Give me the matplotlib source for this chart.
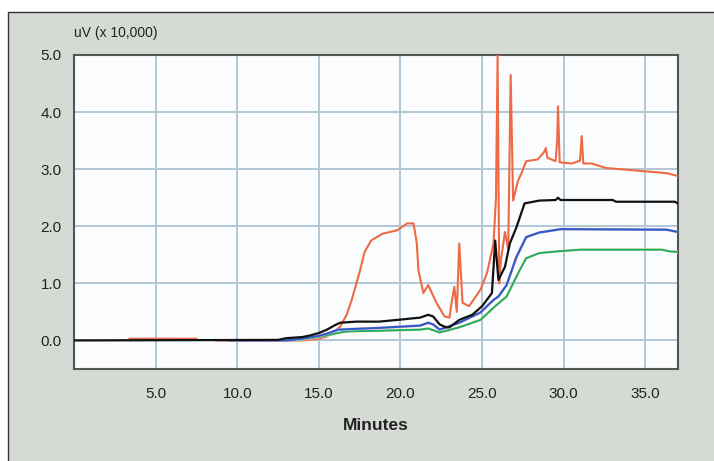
import matplotlib
matplotlib.use('Agg')
import matplotlib.pyplot as plt
from matplotlib.patches import Rectangle
import numpy as np

plt.rcParams['font.family'] = ['Liberation Sans Narrow', 'Liberation Sans', 'DejaVu Sans']

nan = np.nan

# 각 트레이스 (분, uV x 10,000)
orange_t = [3.4, 7.5, nan, 8.7, 12.0, 14.0, 15.0, 15.5, 15.9, 16.3, 16.7, 17.0, 17.3, 17.5,
            17.8, 18.2, 18.9, 19.8, 20.4, 20.8, 21.0, 21.1, 21.4, 21.7, 22.2, 22.7, 23.0,
            23.15, 23.3, 23.45, 23.6, 23.8, 24.2, 24.9, 25.3, 25.7, 25.85, 25.95, 26.05,
            26.15, 26.4, 26.6, 26.75, 26.9, 27.2, 27.4, 27.7, 28.4, 28.8, 28.9, 29.0, 29.5,
            29.6, 29.65, 29.75, 30.5, 31.0, 31.1, 31.2, 31.7, 32.6, 34.7, 36.3, 37.0]
orange_v = [0.03, 0.03, nan, 0.0, -0.01, 0.0, 0.03, 0.07, 0.15, 0.24, 0.45, 0.7, 1.0, 1.2,
            1.55, 1.75, 1.87, 1.93, 2.05, 2.05, 1.70, 1.23, 0.83, 0.97, 0.66, 0.42, 0.40,
            0.7, 0.94, 0.5, 1.70, 0.66, 0.60, 0.89, 1.18, 1.70, 2.5, 5.0, 1.0,
            1.4, 1.9, 1.6, 4.65, 2.45, 2.8, 2.92, 3.14, 3.17, 3.3, 3.37, 3.2, 3.14,
            3.5, 4.1, 3.12, 3.1, 3.15, 3.58, 3.1, 3.1, 3.02, 2.97, 2.93, 2.88]

black_t = [0, 12.5, 13.0, 13.5, 14.0, 14.5, 15.0, 15.5, 16.0, 16.3, 17.3, 18.7, 19.8, 21.2,
           21.7, 22.0, 22.4, 22.8, 23.0, 23.6, 24.4, 25.0, 25.6, 25.7, 25.8, 26.0, 26.4,
           26.7, 27.1, 27.6, 28.5, 29.5, 29.65, 29.8, 33.0, 33.2, 36.8, 37.0]
black_v = [0, 0.01, 0.04, 0.05, 0.06, 0.09, 0.13, 0.19, 0.27, 0.31, 0.33, 0.33, 0.36, 0.40,
           0.45, 0.42, 0.28, 0.23, 0.23, 0.36, 0.45, 0.6, 0.83, 1.28, 1.75, 1.06, 1.29,
           1.70, 1.98, 2.40, 2.45, 2.46, 2.5, 2.46, 2.46, 2.43, 2.43, 2.40]

blue_t = [9.5, 13.0, 14.0, 15.0, 15.5, 16.0, 16.2, 18.7, 21.2, 21.7, 22.0, 22.4, 23.6, 24.9,
          25.7, 26.0, 26.5, 27.1, 27.7, 28.5, 29.6, 29.8, 36.3, 37.0]
blue_v = [0, 0.0, 0.03, 0.08, 0.12, 0.17, 0.19, 0.22, 0.26, 0.31, 0.28, 0.19, 0.31, 0.49,
          0.71, 0.77, 0.97, 1.46, 1.81, 1.89, 1.94, 1.95, 1.94, 1.90]

green_t = [13.5, 15.0, 16.0, 16.5, 17.0, 18.7, 21.2, 21.7, 22.0, 22.4, 23.6, 24.9, 25.8,
           26.5, 27.3, 27.7, 28.5, 29.6, 31.0, 36.0, 36.5, 37.0]
green_v = [0, 0.06, 0.12, 0.15, 0.16, 0.17, 0.19, 0.21, 0.18, 0.14, 0.23, 0.36, 0.6,
           0.77, 1.23, 1.44, 1.53, 1.56, 1.59, 1.59, 1.56, 1.55]

x_ticks = [5, 10, 15, 20, 25, 30, 35]
y_ticks = [0, 1, 2, 3, 4, 5]

W, H = 714, 461
fig = plt.figure(figsize=(W / 100, H / 100), dpi=100)
fig.patch.set_facecolor('white')

# 회색 패널 (축 뒤에 그림)
panel = Rectangle((8 / W, -0.01), 1.0, (H - 12) / H + 0.01, transform=fig.transFigure,
                  facecolor='#d6dad5', edgecolor='#333333', linewidth=1.0, zorder=-10)
fig.patches.append(panel)

ax = fig.add_axes([74 / W, (H - 369) / H, (678 - 74) / W, (369 - 55) / H])
ax.set_zorder(1)
ax.set_facecolor('#fbfcfd')

ax.plot(orange_t, orange_v, color='#ee6a45', lw=1.5, zorder=3)
ax.plot(green_t, green_v, color='#e6e27a', lw=1.9, zorder=3)
ax.plot(green_t, green_v, color='#1aa878', lw=1.3, zorder=4)
ax.plot(blue_t, blue_v, color='#f0bcd8', lw=2.0, zorder=4)
ax.plot(blue_t, blue_v, color='#2a5cc8', lw=1.5, zorder=5)
ax.plot(black_t, black_v, color='#111111', lw=1.6, zorder=6)

ax.set_xlim(0, 37)
ax.set_ylim(-0.5, 5.0)
ax.set_xticks(x_ticks)
ax.set_xticklabels([f'{v:.1f}' for v in x_ticks])
ax.set_yticks(y_ticks)
ax.set_yticklabels([f'{v:.1f}' for v in y_ticks])
ax.tick_params(length=0, labelsize=11, colors='#222222')
ax.tick_params(axis='x', pad=13)
ax.tick_params(axis='y', pad=9)
ax.grid(True, color='#b3c6d4', lw=1.4, zorder=1)

for s in ax.spines.values():
    s.set_color('#555555')
    s.set_linewidth(1.5)

fig.text(74 / W, 1 - 33 / H, 'uV (x 10,000)', fontsize=10, color='#222222',
         ha='left', va='center', zorder=2)
fig.text(376 / W, 1 - 425 / H, 'Minutes', fontsize=12.5, fontweight='bold',
         color='#222222', ha='center', va='center', zorder=2)

plt.savefig('out.png', dpi=100)
